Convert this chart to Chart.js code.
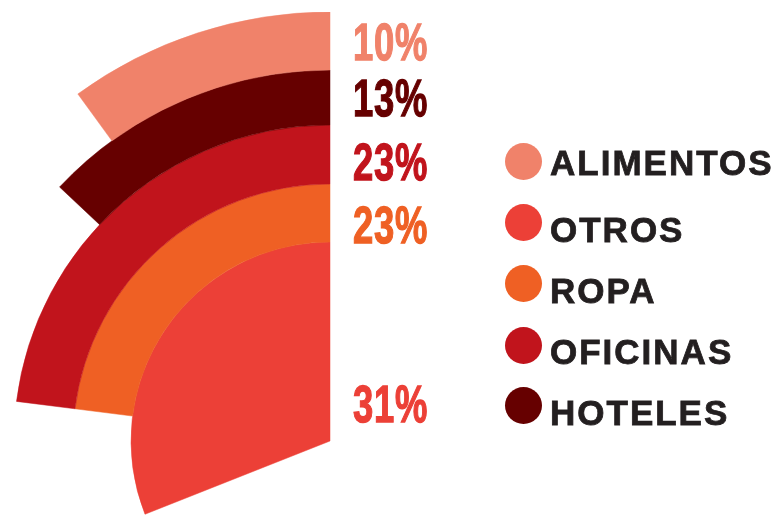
<!DOCTYPE html>
<html>
<head>
<meta charset="utf-8">
<script src="https://cdn.jsdelivr.net/npm/chart.js@4.4.1/dist/chart.umd.min.js"></script>
<style>
    html, body {
        margin: 0;
        padding: 0;
        background: #fff;
    }
    body {
        width: 781px;
        height: 519px;
        overflow: hidden;
        position: relative;
        font-family: "Liberation Sans", Arial, sans-serif;
    }
    #chartBox {
        position: absolute;
        left: -99px;
        top: 12px;
        width: 858px;
        height: 858px;
    }
    .pct {
        position: absolute;
        width: 140px;
        text-align: right;
        font-size: 52px;
        line-height: 52px;
        font-weight: bold;
        letter-spacing: 1px;
        transform: scaleX(0.7);
        transform-origin: right center;
        white-space: nowrap;
    }
    .dot {
        position: absolute;
        left: 505px;
        width: 37px;
        height: 37px;
        border-radius: 50%;
    }
    .name {
        position: absolute;
        left: 550px;
        font-size: 35px;
        line-height: 35px;
        font-weight: bold;
        letter-spacing: 2px;
        color: #231f20;
        -webkit-text-stroke: 0.8px #231f20;
        white-space: nowrap;
    }
</style>
</head>
<body>
<div id="chartBox"><canvas id="radialChart" width="858" height="858"></canvas></div>
<div id="labels"></div>
<div id="legend"></div>

<script>
// legend order
const categories = ["ALIMENTOS", "OTROS", "ROPA", "OFICINAS", "HOTELES"];
const shares = [10, 31, 23, 23, 13];
const colors = ["#f0826a", "#ec4037", "#ef6024", "#c1141c", "#660000"];

// rings from outside to inside
const ringOrder = ["ALIMENTOS", "HOTELES", "OFICINAS", "ROPA", "OTROS"];

// layout only (px)
const ringWidths = { ALIMENTOS: 58, HOTELES: 55, OFICINAS: 59, ROPA: 58, OTROS: 199 };
const pctCenterY = { ALIMENTOS: 41, HOTELES: 97, OFICINAS: 161, ROPA: 224, OTROS: 403 };
const legendDotY = [161, 222, 283, 345, 405];
const legendTextY = [162.5, 229.5, 290, 351.5, 412.5];

/* Build the rings */
let datasets = ringOrder.map(name => {
    let i = categories.indexOf(name);
    let v = shares[i];
    return {
        label: name,
        // blank part first (clockwise from the top), so the coloured part
        // ends at 12 o'clock and grows counter-clockwise
        data: [100 - v, v],
        backgroundColor: ["rgba(0,0,0,0)", colors[i]],
        borderColor: ["rgba(0,0,0,0)", colors[i]],
        borderWidth: [0, 0.5],
        weight: ringWidths[name]
    };
});

let ctx = document.getElementById("radialChart").getContext("2d");

let radialChart = new Chart(ctx, {
    type: "doughnut",
    data: {
        labels: ["", ""],
        datasets: datasets
    },
    options: {
        responsive: false,
        animation: false,
        events: [],
        cutout: 0,
        radius: 429,
        rotation: 0,
        circumference: 360,
        layout: { padding: 0 },
        plugins: {
            legend: { display: false },
            tooltip: { enabled: false }
        }
    }
});

/* Percent labels */
const labelBox = document.getElementById("labels");
ringOrder.forEach(name => {
    let i = categories.indexOf(name);
    let d = document.createElement("div");
    d.className = "pct";
    d.style.left = (428 - 140) + "px";
    d.style.top = (pctCenterY[name] - 25.4) + "px";
    d.style.color = colors[i];
    d.style.webkitTextStroke = "1.3px " + colors[i];
    d.innerText = shares[i] + "%";
    labelBox.appendChild(d);
});

/* Legend */
const legendBox = document.getElementById("legend");
categories.forEach((name, i) => {
    let dot = document.createElement("div");
    dot.className = "dot";
    dot.style.top = (legendDotY[i] - 18.5) + "px";
    dot.style.background = colors[i];
    legendBox.appendChild(dot);

    let txt = document.createElement("div");
    txt.className = "name";
    txt.style.top = (legendTextY[i] - 17.1) + "px";
    txt.innerText = name;
    legendBox.appendChild(txt);
});
</script>
</body>
</html>
